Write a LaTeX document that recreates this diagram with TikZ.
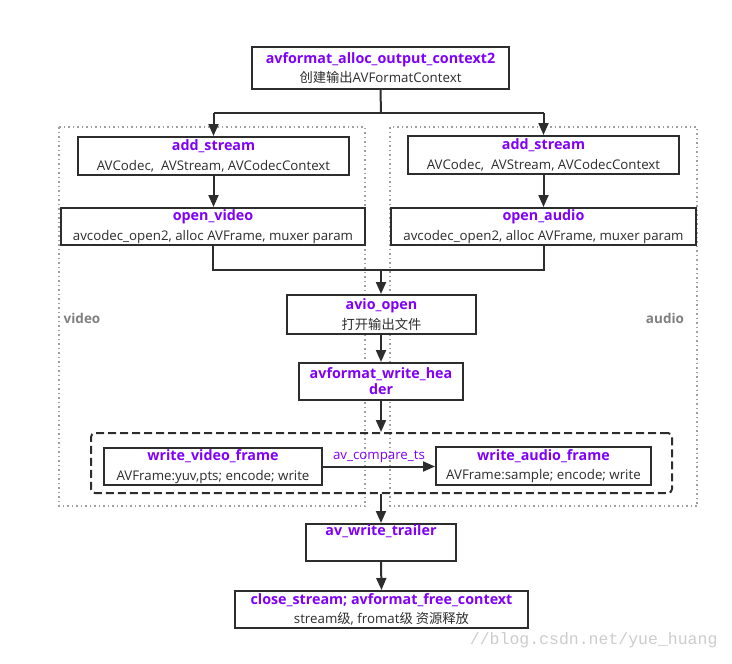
\documentclass[tikz,border=0pt]{standalone}
\usepackage{fontspec}
\setmainfont{Open Sans}
\newfontfamily\cjk{Noto Sans CJK SC}
\newfontfamily\wmfont{Liberation Mono}
\usetikzlibrary{arrows.meta}
\definecolor{ttlc}{RGB}{128,0,250}
\definecolor{linec}{RGB}{45,45,45}
\definecolor{dotc}{RGB}{160,160,160}
\newcommand\ttl[1]{{\fontsize{14.3}{19}\selectfont\textcolor{ttlc}{\bfseries #1}}}
\tikzset{
  box/.style={draw=linec, line width=2pt, fill=white, align=center, inner sep=0pt,
    text=linec, font={\fontsize{13.3}{19.5}\selectfont}},
  arr/.style={draw=linec, line width=2pt, -{Triangle[length=12pt,width=10pt]}},
  ln/.style={draw=linec, line width=2pt},
  grpbox/.style={draw=dotc, line width=1.5pt, dash pattern=on 1.5pt off 3pt},
  dashbox/.style={draw=linec, line width=2pt, dash pattern=on 8pt off 4pt, rounded corners=4pt, inner sep=0pt},
  side/.style={text=gray, font={\fontsize{13.5}{15}\selectfont\bfseries}},
}
\begin{document}
\begin{tikzpicture}[x=1pt,y=-1pt]
\useasboundingbox (0,0) rectangle (732,664);
% dotted groups
\draw[grpbox] (59,127) rectangle (365,506);
\draw[grpbox] (390,127) rectangle (697,506);
\node[side] (vlab) at (82,318) {video};
\node[side] (alab) at (665,318) {audio};
% dashed group
\node[dashbox, minimum width=581pt, minimum height=60pt] (grp) at (381.5,463) {};
% boxes
\node[box, minimum width=257pt, minimum height=42pt] (top) at (380.5,68)
  {\ttl{avformat\_alloc\_output\_context2}\\{\cjk 创建输出}AVFormatContext};
\node[box, minimum width=271pt, minimum height=38pt] (as1) at (213.5,156)
  {\ttl{add\_stream}\\AVCodec,\ \ AVStream, AVCodecContext};
\node[box, minimum width=271pt, minimum height=38pt] (as2) at (543.5,155)
  {\ttl{add\_stream}\\AVCodec,\ \ AVStream, AVCodecContext};
\node[box, minimum width=304pt, minimum height=37pt] (ov) at (213,226.5)
  {\ttl{open\_video}\\avcodec\_open2, alloc AVFrame, muxer param};
\node[box, minimum width=305pt, minimum height=37pt] (oa) at (543.5,226.5)
  {\ttl{open\_audio}\\avcodec\_open2, alloc AVFrame, muxer param};
\node[box, minimum width=189pt, minimum height=39pt] (avio) at (381.5,314.5)
  {\ttl{avio\_open}\\{\cjk 打开输出文件}};
\node[box, minimum width=164pt, minimum height=37pt, font={\fontsize{13.3}{16}\selectfont}] (hdr) at (381,381.5)
  {\ttl{avformat\_write\_hea}\\\ttl{der}};
\node[box, minimum width=218pt, minimum height=37pt] (wvf) at (213,466.5)
  {\ttl{write\_video\_frame}\\AVFrame:yuv,pts; encode; write};
\node[box, minimum width=215pt, minimum height=38pt] (waf) at (543.5,466)
  {\ttl{write\_audio\_frame}\\AVFrame:sample; encode; write};
\node[box, minimum width=150pt, minimum height=37pt] (trl) at (381,542.5)
  {\ttl{av\_write\_trailer}\\\strut};
\node[box, minimum width=293pt, minimum height=37pt] (cls) at (381.5,609.5)
  {\ttl{close\_stream; avformat\_free\_context}\\stream{\cjk 级}, fromat{\cjk 级 资源释放}};
% connectors
\coordinate (split) at (381,113);
\coordinate (sl) at (213.5,113);
\coordinate (sr) at (543.5,113);
\draw[ln] (top.south) -- (split);
\draw[ln] (sl) -- (sr);
\draw[arr] (sl) -- (as1.north);
\draw[arr] (sr) -- (as2.north);
\draw[arr] (as1.south) -- (as1.south |- ov.north);
\draw[arr] (as2.south) -- (as2.south |- oa.north);
\coordinate (merge) at (381,270);
\draw[ln] (ov.south) |- (merge);
\draw[ln] (oa.south) |- (merge);
\draw[arr] (merge) -- (merge |- avio.north);
\draw[arr] (avio.south -| hdr.north) -- (hdr.north);
\draw[arr] (hdr.south) -- (hdr.south |- grp.north);
\draw[arr] (wvf.east) -- node[above=-1pt, text=ttlc, font={\fontsize{13.3}{15}\selectfont}] (cmp) {av\_compare\_ts} (waf.west |- wvf.east);
\draw[arr] (grp.south -| trl.north) -- (trl.north);
\draw[arr] (trl.south) -- (cls.north);
% watermark
\node[text=black!20, font={\wmfont\fontsize{16.5}{18}\selectfont}, anchor=east] (wm) at (721,640) {//blog.csdn.net/yue\_huang};
\end{tikzpicture}
\end{document}
